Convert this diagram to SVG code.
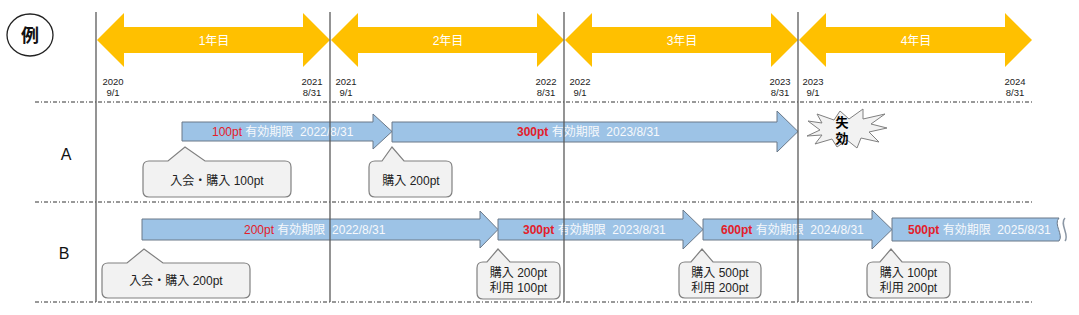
<svg xmlns="http://www.w3.org/2000/svg" width="1079" height="315" viewBox="0 0 1079 315">
<style>
text{font-family:"Liberation Sans","Noto Sans CJK JP",sans-serif}
.yr{fill:#FFC000}
.yl{fill:#fff;font-size:12px;text-anchor:middle}
.dt{fill:#222;font-size:9.5px;text-anchor:middle}
.vl{stroke:#5a5a5a;stroke-width:1.3}
.dl{stroke:#333;stroke-width:1;stroke-dasharray:4 2 1 2}
.ba{fill:#9DC3E6;stroke:#6a7888;stroke-width:1}
.at{font-size:12px;fill:#f7f9fc}
.rd{fill:#e3202a}
.b{font-weight:bold}
.co{fill:#f2f2f2;stroke:#808080;stroke-width:1.2}
.ct{font-size:12px;fill:#222;text-anchor:middle}
.rl{font-size:16px;fill:#111;text-anchor:middle}
</style>
<g id="legend">
<ellipse cx="30" cy="35" rx="23" ry="21" fill="#fff" stroke="#222" stroke-width="1.3"/>
<text x="30" y="41.5" font-size="18" font-weight="bold" text-anchor="middle" fill="#111">例</text>
</g>
<g id="years">
<path class="yr" d="M97,40 L124,13 V27 H303 V13 L330,40 L303,67 V53 H124 V67 Z"/>
<path class="yr" d="M331,40 L358,13 V27 H537 V13 L564,40 L537,67 V53 H358 V67 Z"/>
<path class="yr" d="M565,40 L592,13 V27 H771 V13 L798,40 L771,67 V53 H592 V67 Z"/>
<path class="yr" d="M799,40 L826,13 V27 H1005 V13 L1032,40 L1005,67 V53 H826 V67 Z"/>
<text class="yl" x="214" y="44.5">1年目</text>
<text class="yl" x="448" y="44.5">2年目</text>
<text class="yl" x="682" y="44.5">3年目</text>
<text class="yl" x="916" y="44.5">4年目</text>
</g>
<g id="dates">
<text class="dt" x="113" y="85">2020</text><text class="dt" x="113" y="96">9/1</text>
<text class="dt" x="312" y="85">2021</text><text class="dt" x="312" y="96">8/31</text>
<text class="dt" x="346" y="85">2021</text><text class="dt" x="346" y="96">9/1</text>
<text class="dt" x="546" y="85">2022</text><text class="dt" x="546" y="96">8/31</text>
<text class="dt" x="580" y="85">2022</text><text class="dt" x="580" y="96">9/1</text>
<text class="dt" x="780" y="85">2023</text><text class="dt" x="780" y="96">8/31</text>
<text class="dt" x="813" y="85">2023</text><text class="dt" x="813" y="96">9/1</text>
<text class="dt" x="1015" y="85">2024</text><text class="dt" x="1015" y="96">8/31</text>
</g>
<g id="grid">
<line class="dl" x1="35" y1="102" x2="1032" y2="102"/>
<line class="dl" x1="35" y1="202" x2="1032" y2="202"/>
<line class="dl" x1="35" y1="302" x2="1032" y2="302"/>
</g>
<g id="rowA">
<text class="rl" x="66" y="160">A</text>
<path class="ba" d="M182,122 H373 V114 L392,131.5 L373,149 V141 H182 Z"/>
<path class="ba" d="M392,122 H777 V111 L798,131.5 L777,152 V142 H392 Z"/>
<text class="at" x="212" y="136" xml:space="preserve"><tspan class="rd">100pt</tspan> 有効期限  2022/8/31</text>
<text class="at" x="517" y="136" xml:space="preserve"><tspan class="rd b">300pt</tspan> 有効期限  2023/8/31</text>
</g>
<g id="lapse">
<path d="M808,121 L822,123 L817,114 L834,120 L840,111 L849,119 L863,109 L863,119 L885,114 L871,124 L887,128 L869,132 L879,142 L861,138 L857,148 L847,140 L837,147 L832,139 L815,144 L822,135 L807,136 L820,130 Z" fill="#f2f2f2" stroke="#808080" stroke-width="1"/>
<text x="842" y="127" font-size="13" font-weight="bold" text-anchor="middle" fill="#000">失</text>
<text x="842" y="143" font-size="13" font-weight="bold" text-anchor="middle" fill="#000">効</text>
</g>
<g id="rowB">
<text class="rl" x="64" y="258.5">B</text>
<path class="ba" d="M142,219 H480 V211 L498,229.5 L480,248 V240 H142 Z"/>
<path class="ba" d="M498,219 H683 V210 L703,229.5 L683,249 V240 H498 Z"/>
<path class="ba" d="M703,219 H872 V210 L892,229.5 L872,249 V240 H703 Z"/>
<path class="ba" d="M892,218 H1059 C1053,224 1064,235 1059,241 H892 Z"/>
<path d="M1065,218 C1059,224 1070,235 1065,241" fill="none" stroke="#8a96a4" stroke-width="1.5"/>
<text class="at" x="244" y="233.5" xml:space="preserve"><tspan class="rd">200pt</tspan> 有効期限  2022/8/31</text>
<text class="at" x="523" y="233.5" xml:space="preserve"><tspan class="rd b">300pt</tspan> 有効期限  2023/8/31</text>
<text class="at" x="721" y="233.5" xml:space="preserve"><tspan class="rd b">600pt</tspan> 有効期限  2024/8/31</text>
<text class="at" x="908" y="233.5" xml:space="preserve"><tspan class="rd b">500pt</tspan> 有効期限  2025/8/31</text>
</g>
<g id="calloutA1">
<path class="co" d="M149,161 H168 L185,147 L205,161 H285 Q291,161 291,167 V191 Q291,197 285,197 H149 Q143,197 143,191 V167 Q143,161 149,161 Z"/>
<text class="ct" x="217" y="185">入会・購入 100pt</text>
</g>
<g id="calloutA2">
<path class="co" d="M375,161 H382 L392,147 L404,161 H446 Q452,161 452,167 V191 Q452,197 446,197 H375 Q369,197 369,191 V167 Q369,161 375,161 Z"/>
<text class="ct" x="411" y="185">購入 200pt</text>
</g>
<g id="calloutB1">
<path class="co" d="M108,263 H127 L144,249 L163,263 H244 Q250,263 250,269 V292 Q250,298 244,298 H108 Q102,298 102,292 V269 Q102,263 108,263 Z"/>
<text class="ct" x="176" y="285">入会・購入 200pt</text>
</g>
<g id="calloutB2">
<path class="co" d="M483,262 H487 L498,249 L510,262 H554 Q560,262 560,268 V293 Q560,299 554,299 H483 Q477,299 477,293 V268 Q477,262 483,262 Z"/>
<text class="ct" x="518.5" y="277">購入 200pt</text>
<text class="ct" x="518.5" y="292">利用 100pt</text>
</g>
<g id="calloutB3">
<path class="co" d="M685,262 H691 L702,249 L713,262 H755 Q761,262 761,268 V292 Q761,298 755,298 H685 Q679,298 679,292 V268 Q679,262 685,262 Z"/>
<text class="ct" x="720" y="277">購入 500pt</text>
<text class="ct" x="720" y="292">利用 200pt</text>
</g>
<g id="calloutB4">
<path class="co" d="M873,262 H880 L891,249 L902,262 H944 Q950,262 950,268 V292 Q950,298 944,298 H873 Q867,298 867,292 V268 Q867,262 873,262 Z"/>
<text class="ct" x="908.5" y="277">購入 100pt</text>
<text class="ct" x="908.5" y="292">利用 200pt</text>
</g>
<g id="connectors">
<line class="vl" x1="96" y1="12" x2="96" y2="302"/>
<line class="vl" x1="330" y1="12" x2="330" y2="302"/>
<line class="vl" x1="564" y1="12" x2="564" y2="302"/>
<line class="vl" x1="798" y1="12" x2="798" y2="302"/>
</g>
</svg>
